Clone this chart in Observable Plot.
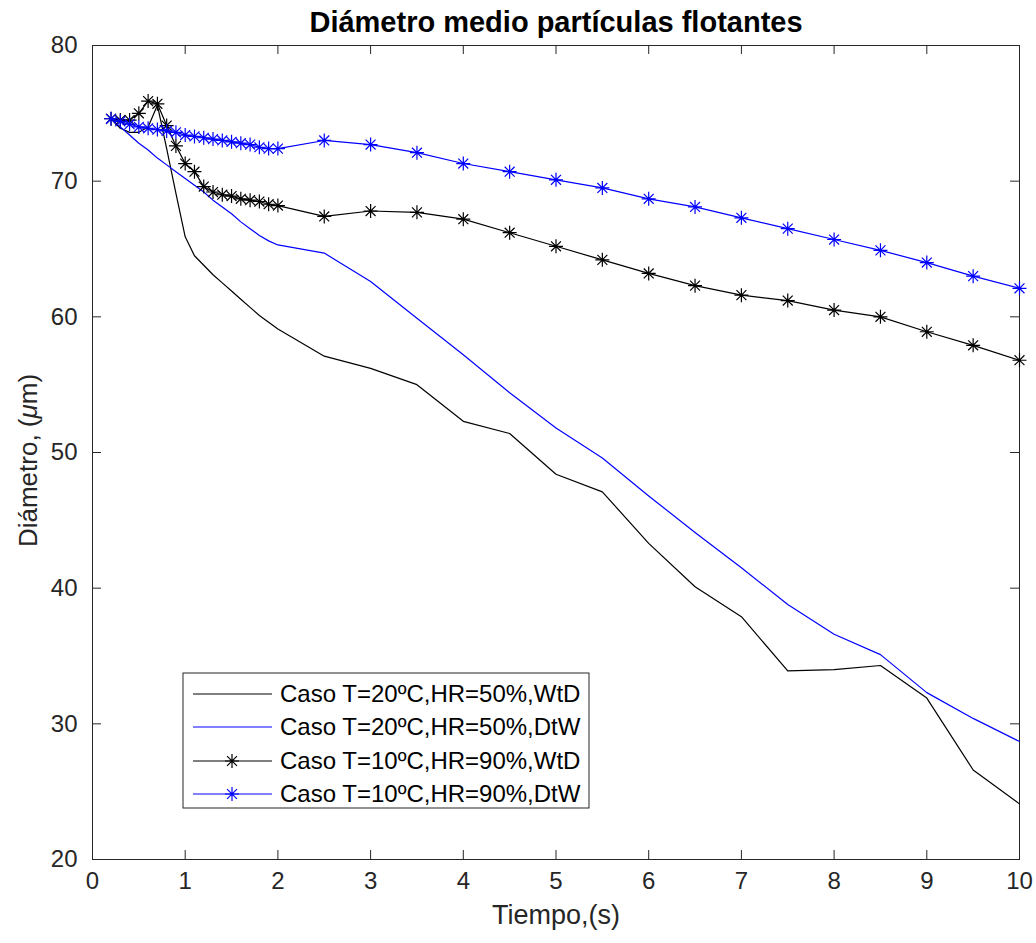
<!DOCTYPE html>
<html>
<head>
<meta charset="utf-8">
<script src="https://cdn.jsdelivr.net/npm/d3@7"></script>
<script src="https://cdn.jsdelivr.net/npm/@observablehq/plot@0.6"></script>
<style>
  html, body { margin: 0; padding: 0; background: #fff; }
  #chart svg { display: block; }
</style>
</head>
<body>
<div id="chart"></div>
<script>
// ---- data ----
const tiempo = [0.2,0.3,0.4,0.5,0.6,0.7,0.8,0.9,1.0,1.1,1.2,1.3,1.4,1.5,1.6,1.7,1.8,1.9,2.0,
                2.5,3,3.5,4,4.5,5,5.5,6,6.5,7,7.5,8,8.5,9,9.5,10];
const wtd20 = [74.6,73.9,73.6,73.6,74.0,75.6,72.4,69.1,65.9,64.5,63.8,63.1,62.5,61.9,61.3,60.7,60.1,59.6,59.1,
               57.1,56.2,55.0,52.3,51.4,48.4,47.1,43.3,40.1,37.9,33.9,34.0,34.3,31.9,26.6,24.1];
const dtw20 = [74.6,74.0,73.4,72.8,72.3,71.7,71.2,70.7,70.2,69.7,69.2,68.6,68.1,67.6,67.0,66.5,66.0,65.6,65.3,
               64.7,62.6,59.9,57.2,54.4,51.8,49.6,46.8,44.1,41.5,38.8,36.6,35.1,32.3,30.4,28.7];
const wtd10 = [74.6,74.5,74.5,75.0,75.9,75.7,74.1,72.6,71.3,70.7,69.6,69.2,69.0,68.9,68.7,68.6,68.5,68.3,68.2,
               67.4,67.8,67.7,67.2,66.2,65.2,64.2,63.2,62.3,61.6,61.2,60.5,60.0,58.9,57.9,56.8];
const dtw10 = [74.6,74.4,74.2,74.0,73.9,73.8,73.7,73.6,73.4,73.3,73.2,73.1,73.0,72.9,72.8,72.7,72.5,72.4,72.4,
               73.0,72.7,72.1,71.3,70.7,70.1,69.5,68.7,68.1,67.3,66.5,65.7,64.9,64.0,63.0,62.1];
const seriesNames = ["Caso T=20ºC,HR=50%,WtD","Caso T=20ºC,HR=50%,DtW","Caso T=10ºC,HR=90%,WtD","Caso T=10ºC,HR=90%,DtW"];
const seriesColors = ["#000000","#0000ff","#000000","#0000ff"];
const seriesMarkers = [false,false,true,true];
const seriesValues = [wtd20, dtw20, wtd10, dtw10];
const xTicks = [0,1,2,3,4,5,6,7,8,9,10];
const yTicks = [20,30,40,50,60,70,80];
const titleText = "Diámetro medio partículas flotantes";
const xLabel = "Tiempo,(s)";
const yLabel = "Diámetro, (μm)";

// ---- layout ----
const W = 1036, H = 943;
const mt = 45, mr = 17, mb = 84, ml = 92;
const pw = W - ml - mr, ph = H - mt - mb;
const axisColor = "#262626";
const font = "'Liberation Sans', Arial, Helvetica, sans-serif";

const star = {
  draw(ctx, size) {
    const r = Math.sqrt(size / Math.PI);
    const d = r * Math.SQRT1_2;
    ctx.moveTo(-r, 0); ctx.lineTo(r, 0);
    ctx.moveTo(0, -r); ctx.lineTo(0, r);
    ctx.moveTo(-d, -d); ctx.lineTo(d, d);
    ctx.moveTo(-d, d); ctx.lineTo(d, -d);
  }
};

const seriesData = seriesValues.map(vals => tiempo.map((t, i) => ({t, v: vals[i]})));

const marks = [];
seriesData.forEach((data, k) => {
  marks.push(Plot.line(data, {x: "t", y: "v", stroke: seriesColors[k], strokeWidth: 1.2}));
  if (seriesMarkers[k]) {
    marks.push(Plot.dot(data, {x: "t", y: "v", symbol: star, r: 7, fill: "none", stroke: seriesColors[k], strokeWidth: 1.2}));
  }
});

const chart = Plot.plot({
  width: W, height: H,
  marginTop: mt, marginRight: mr, marginBottom: mb, marginLeft: ml,
  style: {fontFamily: font, background: "#fff", overflow: "visible"},
  x: {domain: [0, 10]},
  y: {domain: [20, 80]},
  marks: [
    Plot.frame({stroke: axisColor, strokeWidth: 1}),
    Plot.tickX(xTicks, {x: d => d, insetTop: ph - 9, stroke: axisColor}),
    Plot.tickX(xTicks, {x: d => d, insetBottom: ph - 9, stroke: axisColor}),
    Plot.tickY(yTicks, {y: d => d, insetRight: pw - 9, stroke: axisColor}),
    Plot.tickY(yTicks, {y: d => d, insetLeft: pw - 9, stroke: axisColor}),
    Plot.axisX(xTicks, {tickSize: 0, tickPadding: 12, fontSize: 24, color: axisColor, label: null}),
    Plot.axisY(yTicks, {tickSize: 0, tickPadding: 15, fontSize: 24, color: axisColor, label: null}),
    ...marks,
    Plot.text([titleText], {frameAnchor: "top", lineAnchor: "middle", textAnchor: "middle", dy: -23, fontSize: 29, fontWeight: "bold", fill: "#000"}),
    Plot.text([xLabel], {frameAnchor: "bottom", lineAnchor: "middle", textAnchor: "middle", dy: 56, fontSize: 27, fill: axisColor}),
    Plot.text([yLabel], {frameAnchor: "left", lineAnchor: "middle", textAnchor: "middle", dx: -64, dy: 8, rotate: -90, fontSize: 26, fill: axisColor})
  ]
});

document.getElementById("chart").appendChild(chart);

// italic mu in y label
d3.select(chart).selectAll("text").each(function() {
  if (this.textContent === yLabel) {
    const t = d3.select(this);
    t.text(null);
    t.append("tspan").text("Diámetro, (");
    t.append("tspan").attr("font-style", "italic").text("μ");
    t.append("tspan").text("m)");
  }
});

// legend
const svg = d3.select(chart);
const lg = svg.append("g").attr("font-family", font);
const lx = 183, ly = 673, lw = 406, lh = 135;
lg.append("rect").attr("x", lx).attr("y", ly).attr("width", lw).attr("height", lh)
  .attr("fill", "#fff").attr("stroke", axisColor).attr("stroke-width", 1);
const rowY = [694, 727, 761, 794];
seriesNames.forEach((name, k) => {
  const y = rowY[k];
  lg.append("line").attr("x1", 193).attr("x2", 272).attr("y1", y).attr("y2", y)
    .attr("stroke", seriesColors[k]).attr("stroke-width", 1.2);
  if (seriesMarkers[k]) {
    const p = d3.path();
    star.draw(p, Math.PI * 7 * 7);
    lg.append("path").attr("d", p.toString()).attr("transform", `translate(232,${y})`)
      .attr("fill", "none").attr("stroke", seriesColors[k]).attr("stroke-width", 1.2);
  }
  lg.append("text").attr("x", 280).attr("y", y).attr("dy", "0.35em")
    .attr("text-anchor", "start")
    .attr("font-size", 24).attr("fill", "#000").text(name);
});
</script>
</body>
</html>
